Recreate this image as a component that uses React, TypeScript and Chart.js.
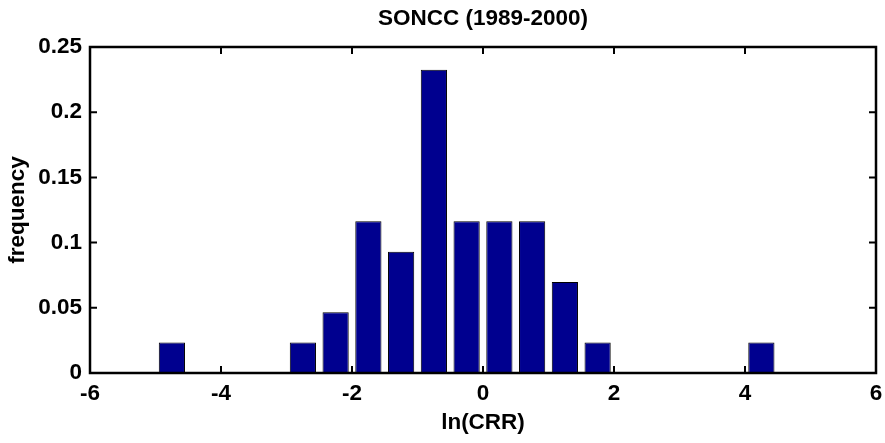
import React, { useEffect, useRef } from "react";
import { Chart, registerables } from "chart.js";

Chart.register(...registerables);

const TITLE = "SONCC (1989-2000)";
const X_LABEL = "ln(CRR)";
const Y_LABEL = "frequency";
const binCenters = [-4.75, -2.75, -2.25, -1.75, -1.25, -0.75, -0.25, 0.25, 0.75, 1.25, 1.75, 4.25];
const frequencies = [0.0233, 0.0233, 0.0465, 0.1163, 0.093, 0.2326, 0.1163, 0.1163, 0.1163, 0.0698, 0.0233, 0.0233];
const X_MIN = -6, X_MAX = 6, X_STEP = 2;
const Y_MIN = 0, Y_MAX = 0.25, Y_STEP = 0.05;

const FONT_FAMILY = '"Liberation Sans", Arial, Helvetica, sans-serif';
const FONT_SIZE = 22.5;

const framePlugin = {
  id: "matlabFrame",
  afterDatasetsDraw(chart: any) {
    const { ctx, chartArea } = chart;
    const { left, right, top, bottom } = chartArea;
    const xs = chart.scales.x;
    const ys = chart.scales.y;
    ctx.save();
    ctx.strokeStyle = "#000";
    ctx.lineWidth = 2.5;
    ctx.beginPath();
    ctx.rect(left, top, right - left, bottom - top);
    ctx.stroke();
    const tl = 7;
    ctx.lineWidth = 2;
    ctx.beginPath();
    for (const t of xs.ticks) {
      const px = xs.getPixelForValue(t.value);
      ctx.moveTo(px, bottom);
      ctx.lineTo(px, bottom - tl);
      ctx.moveTo(px, top);
      ctx.lineTo(px, top + tl);
    }
    for (const t of ys.ticks) {
      const py = ys.getPixelForValue(t.value);
      ctx.moveTo(left, py);
      ctx.lineTo(left + tl, py);
      ctx.moveTo(right, py);
      ctx.lineTo(right - tl, py);
    }
    ctx.stroke();
    ctx.fillStyle = "#000";
    ctx.font = `bold ${FONT_SIZE}px ${FONT_FAMILY}`;
    ctx.textAlign = "center";
    ctx.textBaseline = "middle";
    ctx.fillText(TITLE, (left + right) / 2, 19);
    ctx.restore();
  },
};

export default function App() {
  const ref = useRef<HTMLCanvasElement>(null);
  useEffect(() => {
    document.body.style.margin = "0";
    const canvas = ref.current!;
    const font = { family: FONT_FAMILY, size: FONT_SIZE, weight: "bold" as const, lineHeight: 1 };
    const chart = new Chart(canvas, {
      type: "bar",
      data: {
        datasets: [
          {
            data: binCenters.map((x, i) => ({ x, y: frequencies[i] })),
            backgroundColor: "#00008F",
            borderColor: "#000000",
            borderWidth: 1,
            barPercentage: 0.8,
            categoryPercentage: 1,
          },
        ],
      },
      options: {
        animation: false,
        responsive: false,
        devicePixelRatio: 1,
        layout: { padding: { top: 47, right: 9, left: 0, bottom: 0 } },
        plugins: { legend: { display: false }, tooltip: { enabled: false }, title: { display: false } },
        scales: {
          x: {
            type: "linear",
            min: X_MIN,
            max: X_MAX,
            offset: false,
            grid: { display: false, drawTicks: false },
            border: { display: false },
            ticks: { stepSize: X_STEP, font, color: "#000", padding: 10, maxRotation: 0 },
            title: { display: true, text: X_LABEL, font, color: "#000", padding: { top: 0, bottom: 9 } },
            afterFit: (s: any) => { s.height = 70; s.paddingLeft = 0; s.paddingRight = 0; },
          },
          y: {
            min: Y_MIN,
            max: Y_MAX,
            grid: { display: false, drawTicks: false },
            border: { display: false },
            ticks: {
              stepSize: Y_STEP,
              font,
              color: "#000",
              padding: 8,
              callback: (v: any) => String(Number(Number(v).toFixed(2))),
            },
            title: { display: true, text: Y_LABEL, font, color: "#000", padding: { top: 7, bottom: 0 } },
            afterFit: (s: any) => { s.width = 90; s.paddingTop = 0; s.paddingBottom = 0; },
          },
        },
      },
      plugins: [framePlugin],
    });
    return () => chart.destroy();
  }, []);
  return (
    <div style={{ width: 885, height: 443, background: "#fff" }}>
      <canvas ref={ref} width={885} height={443} style={{ display: "block" }} />
    </div>
  );
}
